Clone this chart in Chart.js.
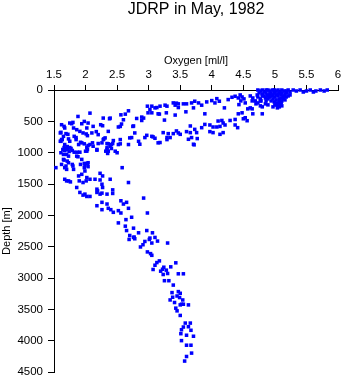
<!DOCTYPE html>
<html>
<head>
<meta charset="utf-8">
<script src="https://cdn.jsdelivr.net/npm/chart.js@4/dist/chart.umd.min.js"></script>
<style>
html,body{margin:0;padding:0;background:#fff;}
#wrap{position:relative;width:345px;height:384px;}
</style>
</head>
<body>
<div id="wrap"><canvas id="c" width="345" height="384"></canvas></div>
<script>
const chartTitle = 'JDRP in May, 1982';
const xAxisTitle = 'Oxygen [ml/l]';
const yAxisTitle = 'Depth [m]';
const xTickValues = [1.5, 2, 2.5, 3, 3.5, 4, 4.5, 5, 5.5, 6];
const xTickLabels = ['1.5','2','2.5','3','3.5','4','4.5','5','5.5','6'];
const yTickValues = [0, 500, 1000, 1500, 2000, 2500, 3000, 3500, 4000, 4500];
const yTickLabels = ['0','500','1000','1500','2000','2500','3000','3500','4000','4500'];

// Oxygen [ml/l]
const oxygen = [
4.73,4.77,4.80,4.83,4.86,4.89,4.92,4.96,4.99,5.02,5.05,5.08,5.11,5.15,4.80,4.86,4.92,4.99,5.05,5.11,
5.18,5.21,5.24,5.29,5.34,5.40,5.45,5.50,5.56,5.61,5.65,5.72,5.78,5.83,
4.96,5.00,5.05,5.10,4.97,5.02,5.07,5.11,4.99,5.04,5.08,5.00,5.05,4.97,5.04,5.08,4.94,5.13,
4.88,4.91,4.94,4.97,5.00,5.03,5.07,5.10,5.16,5.19,5.15,5.18,5.13,5.16,4.92,4.89,5.07,5.10,5.02,5.07,
5.11,5.21,5.24,4.83,4.75,4.72,4.77,4.70,
4.45,4.48,4.51,4.46,4.53,4.61,4.65,4.69,4.64,4.73,4.80,4.77,4.85,4.89,4.73,4.78,4.86,4.77,4.85,4.89,
4.61,4.64,4.57,4.65,4.48,4.53,4.56,4.50,4.80,4.80,
2.98,3.05,3.10,3.18,3.26,3.29,3.39,3.42,3.47,3.55,3.60,3.68,3.73,3.79,3.84,3.92,4.00,4.05,4.08,4.12,
4.26,4.32,4.37,4.42,3.02,2.99,3.05,3.15,3.28,3.42,3.59,3.71,3.89,4.20,4.43,4.42,2.81,2.89,2.89,3.25,
2.76,3.66,3.73,3.84,3.89,3.97,4.02,4.08,4.10,4.16,4.21,4.29,4.37,4.37,4.41,3.97,4.02,4.18,4.13,3.44,
3.50,3.60,3.66,3.76,3.68,3.63,3.71,3.23,3.31,3.29,3.34,2.97,2.94,3.07,3.10,3.18,2.86,2.73,4.18,4.13,
3.77,3.72,
2.28,2.38,2.56,2.60,2.63,2.68,2.57,2.75,2.92,2.55,2.07,3.13,3.44,3.47,3.17,
2.28,2.44,2.55,2.36,2.41,2.52,2.34,2.36,2.70,2.84,3.05,3.47,2.07,2.02,2.18,2.12,
2.20,2.26,2.34,2.39,2.31,2.36,2.39,2.47,2.50,2.68,3.15,3.29,3.39,2.78,
2.52,2.24,2.27,2.17,1.98,1.94,1.88,1.78,1.80,1.66,1.61,1.69,1.72,1.82,1.85,1.96,2.01,2.03,1.63,1.61,
1.73,1.75,1.85,1.92,1.98,2.04,2.11,2.20,2.29,2.34,2.43,2.55,2.41,2.18,2.32,2.35,2.03,2.00,
1.66,1.69,1.72,1.75,1.67,1.74,1.79,1.71,1.64,1.77,1.61,1.82,1.87,1.91,1.88,1.66,1.71,1.62,1.69,1.79,
1.92,1.98,2.03,1.98,2.58,1.53,
1.60,1.65,1.60,1.62,1.67,1.70,1.70,1.73,1.65,1.89,1.94,2.02,1.94,1.62,1.67,1.75,1.81,1.86,1.91,2.02,
2.04,2.10,2.12,
1.67,1.70,1.73,1.80,1.99,2.04,1.99,2.23,2.27,1.89,1.94,2.02,1.67,1.73,1.76,1.90,1.96,2.01,2.15,2.23,
2.26,2.27,2.68,1.86,1.91,1.99,2.02,2.07,1.96,2.18,2.23,2.26,2.19,2.43,2.43,2.92,2.26,2.34,2.18,2.56,
2.65,2.36,2.40,2.26,2.52,2.56,2.44,2.68,2.60,2.98,2.73,2.64,2.52,2.63,2.65,2.76,2.84,2.97,3.06,2.70,
2.76,3.02,3.10,2.07,1.70,1.81,1.65,1.86,2.04,2.39,2.18,2.34,
2.77,2.78,2.69,3.14,2.94,3.01,3.05,2.91,2.87,3.30,2.98,3.03,3.05,3.17,3.13,3.10,3.43,3.24,3.22,3.19,
3.28,3.23,3.30,3.07,3.35,3.47,3.55,3.25,3.32,3.39,3.37,3.47,3.50,3.38,3.34,3.45,3.49,3.41,3.54,3.52,
3.50,3.55,3.63,3.43,3.45,3.50,3.58,3.66,3.55,3.63,3.52,3.51,3.67,3.60,3.71,3.52,3.60,3.67,3.68,3.60,
3.57
];

// Depth [m]
const depth = [
0,16,0,32,0,0,16,0,0,16,0,32,0,16,63,47,63,47,63,47,
16,0,32,0,16,0,32,16,0,32,16,0,16,0,
95,111,95,127,142,158,142,174,190,206,190,237,253,269,285,221,174,111,
79,111,47,79,47,79,47,79,63,47,95,111,142,158,111,142,174,206,237,269,
253,95,79,95,47,79,174,221,
79,111,142,174,206,95,127,174,174,111,95,142,127,95,206,174,174,253,221,237,
285,301,301,380,364,443,490,459,380,269,
258,258,285,258,242,258,206,242,221,221,221,206,179,206,242,190,169,206,138,179,
153,116,100,127,312,364,364,380,364,400,348,285,380,285,233,380,454,432,486,480,
574,574,628,601,549,558,590,590,495,486,558,486,470,558,601,664,680,680,707,653,
707,664,680,680,759,786,865,680,696,759,759,723,759,748,770,838,865,759,527,581,
775,875,
448,459,396,475,385,332,543,581,448,581,369,280,210,280,384,
791,807,791,859,870,870,922,976,764,818,739,685,870,913,949,897,
712,843,949,897,764,660,448,976,1001,870,843,791,696,685,
590,554,570,664,501,538,422,538,517,580,675,696,707,739,759,685,701,728,791,818,
780,818,791,834,859,886,843,854,780,854,854,859,933,960,976,1012,949,976,
918,933,949,918,965,981,965,902,949,933,1001,992,992,992,1065,1118,1134,1187,1213,1187,
1187,1171,1171,1239,1239,1239,
685,739,818,791,870,949,1028,1055,1028,870,843,976,1107,554,606,527,606,633,660,606,
527,685,580,
1239,1266,1160,1213,1202,1160,1292,1329,1371,1371,1345,1397,1424,1450,1466,1450,1476,1450,1424,1435,
1503,1555,1476,1555,1634,1661,1698,1698,1677,1634,1661,1645,1609,1593,1650,1724,1792,1819,1846,1767,
1792,1887,1909,1909,1925,1962,1951,1887,1819,1962,2030,2068,2120,2172,2242,2204,2278,2242,2278,2321,
2352,2362,2352,1424,1450,1266,1107,1055,1223,1424,1582,1661,
2346,2373,2384,2410,2416,2384,2441,2468,2504,2441,2583,2610,2637,2726,2753,2795,2757,2827,2859,2890,
2874,2943,2927,2863,2821,2932,2932,3042,3042,3112,3232,3216,3243,3306,3349,3286,3311,3390,3349,3417,
3428,3417,3428,3480,3523,3596,3718,3718,3781,3776,3824,3887,3833,3912,3928,3998,4071,4071,4197,4251,
4324
];

const points = oxygen.map((o, i) => ({ x: o, y: depth[i] }));
const FONT = '"Liberation Sans", Arial, Helvetica, sans-serif';

function labelFor(values, labels, v) {
  const k = values.findIndex(t => Math.abs(t - v) < 1e-6);
  return k >= 0 ? labels[k] : '';
}

const titlePlugin = {
  id: 'centredTitle',
  afterDraw(chart) {
    const ctx = chart.ctx;
    const a = chart.chartArea;
    ctx.save();
    ctx.fillStyle = '#000';
    ctx.font = '16px ' + FONT;
    ctx.textAlign = 'center';
    ctx.textBaseline = 'middle';
    ctx.fillText(chartTitle, (a.left + a.right) / 2, 10);
    ctx.restore();
  }
};

new Chart(document.getElementById('c'), {
  type: 'scatter',
  data: {
    datasets: [{
      data: points,
      pointStyle: 'rect',
      pointRadius: 2.5,
      pointHoverRadius: 2.5,
      pointBorderWidth: 0,
      borderWidth: 0,
      backgroundColor: 'rgb(0,0,255)',
      borderColor: 'rgb(0,0,255)',
      clip: false
    }]
  },
  options: {
    responsive: false,
    animation: false,
    devicePixelRatio: 1,
    layout: { padding: { top: 46, right: 7, bottom: 2, left: 0 } },
    plugins: { legend: { display: false }, tooltip: { enabled: false }, title: { display: false } },
    scales: {
      x: {
        type: 'linear',
        position: 'top',
        min: 1.5, max: 6,
        afterFit(s) { s.height = 44; },
        ticks: {
          stepSize: 0.5,
          color: '#000',
          padding: 3,
          font: { family: FONT, size: 11.5 },
          callback: (v) => labelFor(xTickValues, xTickLabels, v)
        },
        grid: { display: true, drawOnChartArea: false, drawTicks: true, tickLength: 5, color: '#000', lineWidth: 1 },
        border: { display: true, color: '#000', width: 1 },
        title: { display: true, text: xAxisTitle, color: '#000', font: { family: FONT, size: 11 }, padding: { top: 8, bottom: 0 } }
      },
      y: {
        type: 'linear',
        position: 'left',
        reverse: true,
        min: 0, max: 4500,
        afterFit(s) { s.width = 54; },
        ticks: {
          stepSize: 500,
          color: '#000',
          padding: 5,
          font: { family: FONT, size: 11.5 },
          callback: (v) => labelFor(yTickValues, yTickLabels, v)
        },
        grid: { display: true, drawOnChartArea: false, drawTicks: true, tickLength: 6, color: '#000', lineWidth: 1 },
        border: { display: true, color: '#000', width: 1 },
        title: { display: true, text: yAxisTitle, color: '#000', font: { family: FONT, size: 11 }, padding: { top: 0, bottom: 0 } }
      }
    }
  },
  plugins: [titlePlugin]
});
</script>
</body>
</html>
